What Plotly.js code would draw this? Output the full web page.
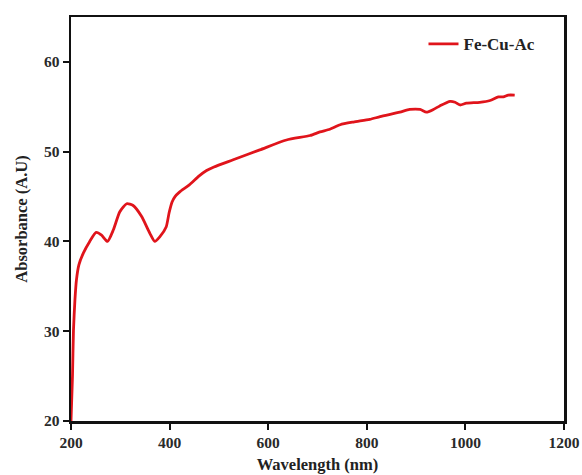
<!DOCTYPE html>
<html>
<head>
<meta charset="utf-8">
<script src="https://cdn.plot.ly/plotly-3.0.1.min.js"></script>
<style>html,body{margin:0;padding:0;background:#fff;}#chart{width:582px;height:475px;}</style>
</head>
<body>
<div id="chart"></div>
<script>
const seriesName = "Fe-Cu-Ac";
const wavelength = [200, 203, 205, 208, 211, 216, 225, 238, 251, 262, 274, 286, 299, 313, 326, 343, 360, 370, 380, 393, 399, 405, 411, 420, 440, 460, 475, 490, 529, 583, 637, 685, 705, 725, 746, 773, 806, 827, 867, 887, 908, 921, 935, 948, 969, 979, 989, 1002, 1029, 1050, 1067, 1077, 1087, 1100];
const absorbance = [20.0, 25.0, 30.1, 33.5, 35.7, 37.4, 38.7, 40.0, 41.0, 40.7, 40.0, 41.3, 43.3, 44.2, 44.0, 42.8, 40.9, 40.0, 40.5, 41.6, 43.2, 44.4, 45.0, 45.5, 46.3, 47.3, 47.9, 48.3, 49.1, 50.2, 51.3, 51.8, 52.2, 52.5, 53.0, 53.3, 53.6, 53.9, 54.4, 54.7, 54.7, 54.4, 54.7, 55.1, 55.6, 55.5, 55.2, 55.4, 55.5, 55.7, 56.1, 56.1, 56.3, 56.3];
const xTicks = [200, 400, 600, 800, 1000, 1200];
const yTicks = [20, 30, 40, 50, 60];

const font = {family: "Liberation Serif, Times New Roman, serif", size: 15, color: "#222"};
const trace = {
  x: wavelength, y: absorbance, type: "scatter", mode: "lines", name: seriesName,
  line: {color: "#e0141b", width: 2.8, shape: "spline", smoothing: 0.6}
};
const axisBase = {
  showline: true, linecolor: "#111", linewidth: 2.5, mirror: true,
  ticks: "outside", ticklen: 6, tickwidth: 2, tickcolor: "#111",
  showgrid: false, zeroline: false,
  tickfont: {family: font.family, size: 15.5, color: "#2a2a2a", weight: "bold"}
};
const layout = {
  width: 582, height: 475,
  margin: {l: 71, r: 18, t: 17, b: 54},
  paper_bgcolor: "#fff", plot_bgcolor: "#fff",
  font: font,
  showlegend: true,
  legend: {x: 0.715, y: 0.977, xanchor: "left", yanchor: "top", bgcolor: "rgba(0,0,0,0)",
           font: {family: font.family, size: 17, color: "#222", weight: "bold"}},
  xaxis: Object.assign({}, axisBase, {
    range: [200, 1200], tickvals: xTicks, ticktext: xTicks.map(String),
    title: {text: "Wavelength (nm)", standoff: 9, font: {family: font.family, size: 16.5, color: "#222", weight: "bold"}}
  }),
  yaxis: Object.assign({}, axisBase, {
    range: [20, 65], tickvals: yTicks, ticktext: yTicks.map(String),
    title: {text: "Absorbance (A.U)", standoff: 12, font: {family: font.family, size: 16.5, color: "#222", weight: "bold"}}
  })
};
Plotly.newPlot("chart", [trace], layout, {displayModeBar: false, staticPlot: true});
</script>
</body>
</html>
